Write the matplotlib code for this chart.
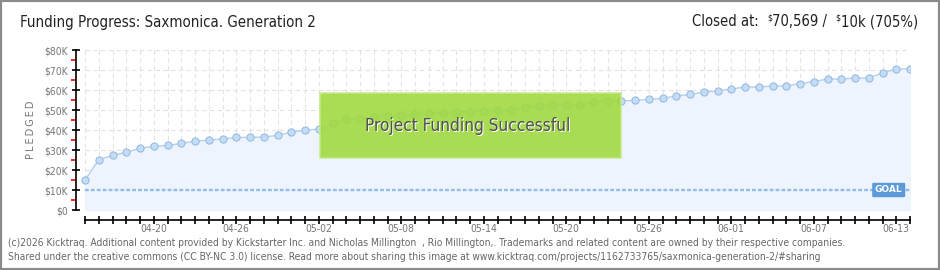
import matplotlib
matplotlib.use("Agg")
import matplotlib.pyplot as plt
import matplotlib.dates as mdates
from matplotlib.patches import Rectangle
import pandas as pd
import numpy as np

# ---------------- data ----------------
start_date = "2026-04-15"
pledged_k = [15.0, 25.2, 27.3, 28.8, 30.9, 31.8, 32.3, 33.3, 34.4, 35.0,
             35.5, 36.3, 36.3, 36.5, 37.3, 39.0, 39.8, 40.5, 43.5, 45.6,
             45.7, 46.6, 47.0, 47.5, 47.8, 48.5, 48.5, 49.2, 49.2, 49.7,
             50.0, 50.0, 51.3, 52.0, 52.5, 52.5, 52.5, 54.0, 54.3, 54.6,
             54.8, 55.3, 55.8, 57.0, 57.8, 59.0, 59.5, 60.5, 61.5, 61.5,
             62.0, 62.0, 63.2, 64.2, 65.5, 65.5, 66.0, 66.0, 68.5, 70.5,
             70.569]
goal = 10000
label_dates = ["04-20", "04-26", "05-02", "05-08", "05-14", "05-20",
               "05-26", "06-01", "06-07", "06-13"]
y_ticks = [0, 10000, 20000, 30000, 40000, 50000, 60000, 70000, 80000]
y_labels = ["$0", "$10K", "$20K", "$30K", "$40K", "$50K", "$60K", "$70K", "$80K"]
title = "Funding Progress: Saxmonica. Generation 2"
closed_parts = ["Closed at:  ", "$", "70,569 /  ", "$", "10k (705%)"]
footer1 = ("(c)2026 Kicktraq. Additional content provided by Kickstarter Inc. and Nicholas Millington  , "
           "Rio Millington,. Trademarks and related content are owned by their respective companies.")
footer2 = ("Shared under the creative commons (CC BY-NC 3.0) license. Read more about sharing this image at "
           "www.kicktraq.com/projects/1162733765/saxmonica-generation-2/#sharing")
banner = "Project Funding Successful"

pledged = np.array(pledged_k) * 1000
dates = pd.date_range(start_date, periods=len(pledged), freq="D")
x = mdates.date2num(dates)

FONT = dict(family="DejaVu Sans", stretch="condensed")

W, H = 940, 270
fig = plt.figure(figsize=(W / 100, H / 100), dpi=100)
fig.patch.set_facecolor("white")

def fx(px):
    return px / W

def fy(py):
    return 1 - py / H

ax = fig.add_axes([fx(76), fy(220), fx(910) - fx(76), fy(50) - fy(220)])
ax.set_facecolor("none")
ax.set_xlim(x[0] - 9 / 13.75, x[-1])
ax.set_ylim(-5000, 80000)

# grid (dashed, only inside plot range)
for xv in x:
    ax.plot([xv, xv], [0, 80000], color="#e2e2e2", lw=0.8, ls=(0, (4, 3)), zorder=0.5)
for yv in y_ticks:
    ax.plot([x[0], x[-1]], [yv, yv], color="#e2e2e2", lw=0.8, ls=(0, (4, 3)), zorder=0.5)

# fill + line + markers
ax.fill_between(x, 0, pledged, color="#edf4fd", zorder=1)
ax.plot(x, pledged, color="#b2d1f1", lw=1.0, zorder=3)
ax.plot(x, pledged, ls="none", marker="o", ms=5.2, mfc="#c4ddf7",
        mec="#93b6dc", mew=0.7, zorder=4)

# goal line
ax.plot([x[0], x[-1]], [goal, goal], color="#93bbe6", lw=1.7,
        ls=(0, (1.6, 0.9)), dash_capstyle="butt", zorder=2)
ax.text(x[-1] - 1.55, goal, "GOAL", fontsize=6.5, color="white", ha="center",
        va="center", fontweight="bold", zorder=6,
        bbox=dict(boxstyle="round,pad=0.3,rounding_size=0.15", fc="#5d9ad9", ec="none"))

# spines
for s in ["top", "right"]:
    ax.spines[s].set_visible(False)
ax.spines["left"].set_bounds(0, 80000)
ax.spines["bottom"].set_bounds(x[0], x[-1])
ax.spines["left"].set_linewidth(1.2)
ax.spines["bottom"].set_linewidth(1.2)

ax.set_yticks(y_ticks)
ax.set_yticklabels(y_labels)
ax.set_yticks(np.arange(5000, 80000, 10000), minor=True)
ax.tick_params(axis="y", which="major", direction="inout", length=6, width=1.2,
               color="black", labelsize=7.5, labelcolor="#777777", pad=3)
ax.tick_params(axis="y", which="minor", direction="out", length=3.5, width=1.2,
               color="#ff0000")

label_pos = [mdates.date2num(pd.Timestamp(f"2026-{d}")) for d in label_dates]
ax.set_xticks(label_pos)
ax.set_xticklabels(label_dates)
ax.set_xticks(x, minor=True)
ax.tick_params(axis="x", which="both", direction="inout", length=6, width=1.2,
               color="black", labelsize=7.5, labelcolor="#777777", pad=0)
for lbl in ax.get_yticklabels() + ax.get_xticklabels():
    lbl.set_fontstretch("condensed")

# y label
fig.text(fx(31), fy(130), "P\u2009L\u2009E\u2009D\u2009G\u2009E\u2009D", rotation=90,
         fontsize=7, color="#777777", ha="center", va="center")

# titles
fig.text(fx(20), fy(22), title, fontsize=10.8, color="#222222", ha="left",
         va="center", **FONT)

# right title: built from pieces, right to left, with superscript dollar signs
fig.canvas.draw()
renderer = fig.canvas.get_renderer()
xr = 918
for part in reversed(closed_parts):
    sup = part == "$"
    t = fig.text(fx(xr), fy(22 - (4 if sup else 0)), part,
                 fontsize=6.3 if sup else 10.6, color="#222222", ha="right",
                 va="center", **FONT)
    bb = t.get_window_extent(renderer)
    xr -= bb.width

# banner
fig.add_artist(Rectangle((fx(320), fy(158)), fx(621) - fx(320), fy(93) - fy(158),
                         transform=fig.transFigure, fc="#9fd93c", ec="#c5eb86",
                         lw=1.2, alpha=0.88, zorder=10))
fig.text(fx(468) + 0.001, fy(126) - 0.004, banner, fontsize=12.3, color="white",
         ha="center", va="center", zorder=11, **FONT)
fig.text(fx(468), fy(126), banner, fontsize=12.3, color="#505050",
         ha="center", va="center", zorder=12, **FONT)

# footer
fig.text(fx(8), fy(243), footer1, fontsize=7.4, color="#666666", ha="left",
         va="center", **FONT)
fig.text(fx(8), fy(257), footer2, fontsize=7.4, color="#666666", ha="left",
         va="center", **FONT)

# frame
fig.add_artist(Rectangle((0, 0), 1, 1, transform=fig.transFigure, fill=False,
                         ec="#8a8a8a", lw=3))

fig.savefig("out.png", dpi=100)
